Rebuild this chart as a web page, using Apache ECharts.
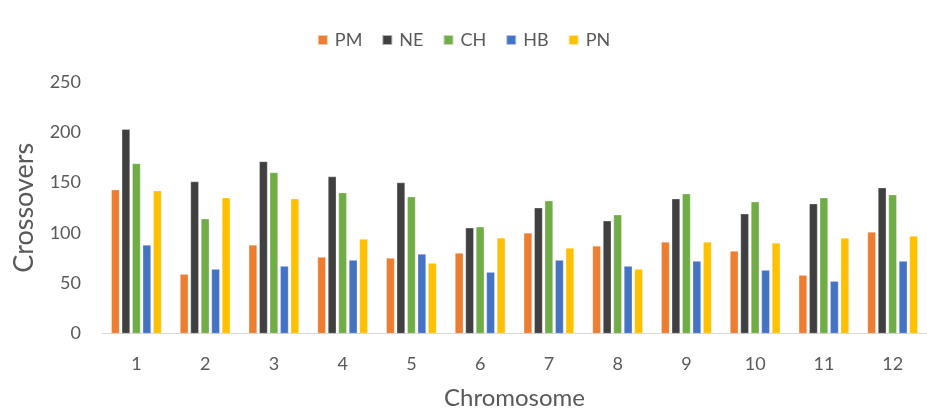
<!DOCTYPE html>
<html>
<head>
<meta charset="utf-8">
<script src="https://cdn.jsdelivr.net/npm/echarts@6/dist/echarts.min.js"></script>
<style>
  html, body { margin: 0; padding: 0; background: #ffffff; }
  #chart { width: 927px; height: 413px; }
</style>
</head>
<body>
<div id="chart"></div>
<script>
// Crossover counts per chromosome for five populations
const chromosomes = ['1', '2', '3', '4', '5', '6', '7', '8', '9', '10', '11', '12'];
const pm = [143, 59, 88, 76, 75, 80, 100, 87, 91, 82, 58, 101];
const ne = [203, 151, 171, 156, 150, 105, 125, 112, 134, 119, 129, 145];
const ch = [169, 114, 160, 140, 136, 106, 132, 118, 139, 131, 135, 138];
const hb = [88, 64, 67, 73, 79, 61, 73, 67, 72, 63, 52, 72];
const pn = [142, 135, 134, 94, 70, 95, 85, 64, 91, 90, 95, 97];
const yTicks = { min: 0, max: 250, interval: 50 };

const FONT = 'Lato, "Open Sans", sans-serif';
const TEXT = '#595959';

const seriesDefs = [
  { name: 'PM', data: pm, color: '#ED7D31' },
  { name: 'NE', data: ne, color: '#404040' },
  { name: 'CH', data: ch, color: '#70AD47' },
  { name: 'HB', data: hb, color: '#4472C4' },
  { name: 'PN', data: pn, color: '#FFC000' }
];

const chart = echarts.init(document.getElementById('chart'), null, { renderer: 'canvas' });
chart.setOption({
  animation: false,
  backgroundColor: '#ffffff',
  textStyle: { fontFamily: FONT },
  legend: {
    top: 26,
    left: 'center',
    itemWidth: 10,
    itemHeight: 10,
    itemGap: 19,
    icon: 'rect',
    textStyle: { fontFamily: FONT, fontSize: 18, color: TEXT, padding: [0, 0, 0, 2] },
    data: seriesDefs.map(s => s.name)
  },
  grid: { left: 102, right: 0, top: 82, bottom: 79.5, containLabel: false, outerBoundsMode: 'none' },
  xAxis: {
    type: 'category',
    data: chromosomes,
    name: 'Chromosome',
    nameLocation: 'middle',
    nameGap: 53,
    nameTextStyle: { fontFamily: FONT, fontSize: 24, color: TEXT },
    axisLine: { lineStyle: { color: '#D9D9D9', width: 1 } },
    axisTick: { show: false },
    axisLabel: { fontFamily: FONT, fontSize: 18, color: TEXT, margin: 22 }
  },
  yAxis: {
    type: 'value',
    min: yTicks.min,
    max: yTicks.max,
    interval: yTicks.interval,
    name: 'Crossovers',
    nameLocation: 'middle',
    nameGap: 64,
    nameTextStyle: { fontFamily: FONT, fontSize: 27, color: TEXT },
    axisLine: { show: false },
    axisTick: { show: false },
    splitLine: { show: false },
    axisLabel: { fontFamily: FONT, fontSize: 18, color: TEXT, margin: 21 }
  },
  series: seriesDefs.map(s => ({
    name: s.name,
    type: 'bar',
    data: s.data,
    barGap: '27%',
    barCategoryGap: '27%',
    itemStyle: { color: s.color, borderColor: 'rgba(255,255,255,0.6)', borderWidth: 0.5 }
  }))
});
</script>
</body>
</html>
